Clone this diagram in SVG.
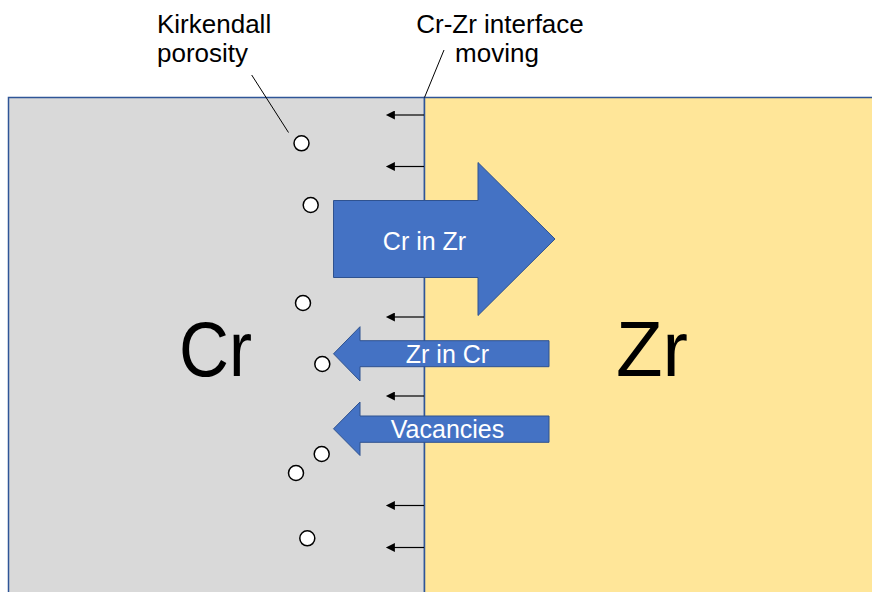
<svg xmlns="http://www.w3.org/2000/svg" width="872" height="592" viewBox="0 0 872 592">
  <defs>
    <marker id="tip" viewBox="0 0 10 10" refX="1" refY="5" markerWidth="10" markerHeight="9" markerUnits="userSpaceOnUse" orient="auto-start-reverse">
      <path d="M0,0 L10,5 L0,10 Z" fill="#000"/>
    </marker>
  </defs>
  <style>
    .lbl { font-family: "Liberation Sans", Arial, sans-serif; font-size: 26px; fill: #000; }
    .flow { fill: #4472C4; stroke: #2F528F; stroke-width: 1; }
    .flowtxt { font-family: "Liberation Sans", Arial, sans-serif; font-size: 25px; fill: #fff; text-anchor: middle; }
    .big { font-family: "Liberation Sans", Arial, sans-serif; font-size: 78px; fill: #000; }
    .pore { fill: #fff; stroke: #000; stroke-width: 1.5; }
    .move { stroke: #000; stroke-width: 1.2; fill: none; }
    .lead { stroke: #000; stroke-width: 1; fill: none; }
  </style>

  <rect width="872" height="592" fill="#fff"/>

  <!-- Two metal blocks -->
  <g id="cr-block">
    <rect x="8.5" y="97.5" width="416" height="500" fill="#D9D9D9" stroke="#2F5597" stroke-width="1.5"/>
    <text class="big" x="179" y="376" textLength="73" lengthAdjust="spacingAndGlyphs">Cr</text>
  </g>
  <g id="zr-block">
    <rect x="424.5" y="97.5" width="452" height="500" fill="#FFE699" stroke="#2F5597" stroke-width="1.5"/>
    <text class="big" x="616" y="376" textLength="72" lengthAdjust="spacingAndGlyphs">Zr</text>
  </g>

  <!-- Interface displacement arrows -->
  <g id="interface-motion">
    <line class="move" x1="424" y1="115" x2="394" y2="115" marker-end="url(#tip)"/>
    <line class="move" x1="424" y1="166.5" x2="394" y2="166.5" marker-end="url(#tip)"/>
    <line class="move" x1="424" y1="317" x2="394" y2="317" marker-end="url(#tip)"/>
    <line class="move" x1="424" y1="396" x2="394" y2="396" marker-end="url(#tip)"/>
    <line class="move" x1="424" y1="505.5" x2="394" y2="505.5" marker-end="url(#tip)"/>
    <line class="move" x1="424" y1="547.5" x2="394" y2="547.5" marker-end="url(#tip)"/>
  </g>

  <!-- Kirkendall pores -->
  <g id="pores">
    <circle class="pore" cx="301.5" cy="143.3" r="7.5"/>
    <circle class="pore" cx="310.7" cy="205" r="7.5"/>
    <circle class="pore" cx="303" cy="303" r="7.5"/>
    <circle class="pore" cx="322.3" cy="364" r="7.5"/>
    <circle class="pore" cx="321.7" cy="454" r="7.5"/>
    <circle class="pore" cx="296" cy="473" r="7.5"/>
    <circle class="pore" cx="307.3" cy="538.3" r="7.5"/>
  </g>

  <!-- Diffusion fluxes -->
  <g id="cr-in-zr">
    <polygon class="flow" points="333.5,200.5 478,200.5 478,162.5 555,239 478,315.5 478,277.5 333.5,277.5"/>
    <text class="flowtxt" x="424.5" y="250">Cr in Zr</text>
  </g>
  <g id="zr-in-cr">
    <polygon class="flow" points="549,340.7 360,340.7 360,326.7 333.5,353.8 360,381 360,366.7 549,366.7"/>
    <text class="flowtxt" x="447.5" y="363.3">Zr in Cr</text>
  </g>
  <g id="vacancies">
    <polygon class="flow" points="549,416 360,416 360,402 333.5,428.8 360,455.5 360,442.3 549,442.3"/>
    <text class="flowtxt" x="447.5" y="438.3">Vacancies</text>
  </g>

  <!-- Callouts -->
  <g id="connectors">
    <line class="lead" x1="251.7" y1="75" x2="288.5" y2="132.5"/>
    <line class="lead" x1="444" y1="50" x2="424.5" y2="97.5"/>
  </g>
  <g id="label-kirkendall">
    <text class="lbl" x="157" y="33">Kirkendall</text>
    <text class="lbl" x="157" y="62">porosity</text>
  </g>
  <g id="label-interface">
    <text class="lbl" x="500" y="33" text-anchor="middle">Cr-Zr interface</text>
    <text class="lbl" x="497" y="62" text-anchor="middle">moving</text>
  </g>
</svg>
